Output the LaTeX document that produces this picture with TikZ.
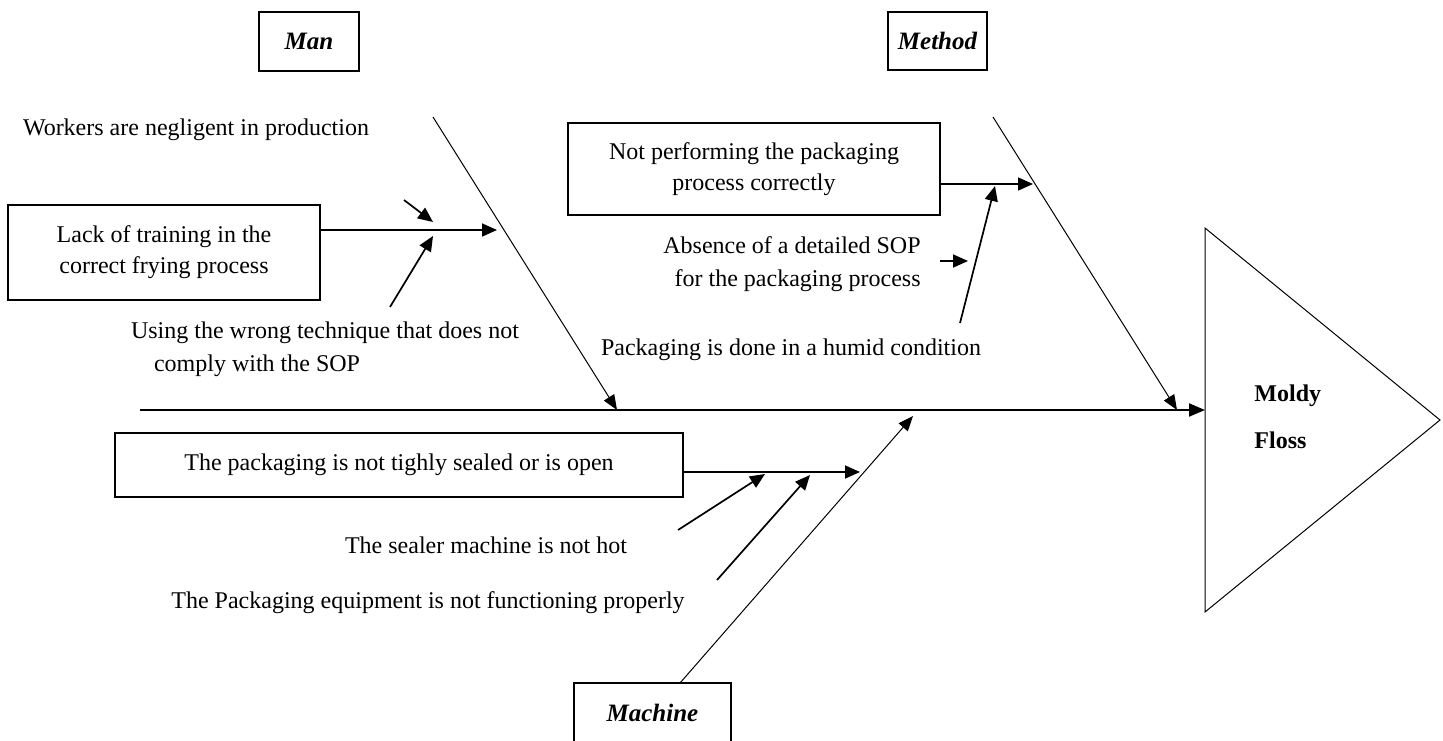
\documentclass[tikz,border=0pt]{standalone}
\usepackage{fontspec}
\setmainfont{Liberation Serif}
\usetikzlibrary{arrows.meta,calc}
\tikzset{
  box/.style={draw, line width=0.6pt, inner sep=0pt, align=center, font=\fontsize{12}{15.5}\selectfont},
  catbox/.style={box, font=\fontsize{12.5}{15}\selectfont\bfseries\itshape},
  lbl/.style={inner sep=0pt, align=center, font=\fontsize{12}{15.5}\selectfont},
  arr/.style={-{Triangle[length=7.5pt,width=6.5pt]}, line width=0.85pt},
  bone/.style={-{Triangle[length=7.5pt,width=6pt]}, line width=0.5pt},
  spine/.style={-{Triangle[length=8pt,width=6.5pt]}, line width=1pt},
}
\begin{document}
\begin{tikzpicture}[x=0.5pt,y=-0.5pt]
\useasboundingbox (0,0) rectangle (1443,740);

% effect triangle
\coordinate (effTop) at (1205,228);
\coordinate (effBot) at (1205,612);
\coordinate (effTip) at (1440,420);
\coordinate (effW) at (1205,410);
\draw[line width=0.5pt] (effTop) -- (effTip) -- (effBot) -- cycle;
\node[lbl, anchor=west, align=left, font=\fontsize{12}{23.5}\selectfont\bfseries] (effect) at (1254,417) {Moldy\\Floss};

% spine
\coordinate (tail) at (140,410);
\draw[spine] (tail) -- (effW);

% category boxes
\node[catbox, minimum width=50pt, minimum height=29.5pt] (man) at (309,41.5) {Man};
\node[catbox, minimum width=49.5pt, minimum height=29pt] (method) at (937.5,41) {Method};
\node[catbox, minimum width=78.5pt, minimum height=29.5pt] (machine) at (652.5,712.5) {Machine};

% bones
\coordinate (manTop) at (433,117);
\coordinate (manEnd) at (617,410);
\draw[bone] (manTop) -- (manEnd);
\coordinate (methTop) at (993,117);
\coordinate (methEnd) at (1177,410);
\draw[bone] (methTop) -- (methEnd);
\coordinate (machStart) at (680,683);
\coordinate (machEnd) at (913,416);
\draw[bone] (machStart) -- (machEnd);

% Man causes
\node[box, minimum width=156pt, minimum height=47.5pt] (lack) at (164,252.5) {Lack of training in the\\correct frying process};
\coordinate (lackOut) at (320,230);
\coordinate (lackEnd) at (497,230);
\draw[arr] (lackOut) -- (lackEnd);
\node[lbl] (workers) at (196,130) {Workers are negligent in production};
\coordinate (workA) at (404,200);
\coordinate (workB) at (433,222);
\draw[arr] (workA) -- (workB);
\node[lbl] (using1) at (325,333) {Using the wrong technique that does not};
\node[lbl] (using2) at (257,366) {comply with the SOP};
\coordinate (useA) at (390,307);
\coordinate (useB) at (433,236);
\draw[arr] (useA) -- (useB);

% Method causes
\node[box, minimum width=186pt, minimum height=46pt] (notperf) at (754,169) {Not performing the packaging\\process correctly};
\coordinate (npOut) at (940,184);
\coordinate (npEnd) at (1033,184);
\draw[arr] (npOut) -- (npEnd);
\node[lbl, anchor=east, align=right, font=\fontsize{12}{16.5}\selectfont] (absence) at (921,264) {Absence of a detailed SOP\\for the packaging process};
\coordinate (absA) at (940,261);
\coordinate (absB) at (968,261);
\draw[arr] (absA) -- (absB);
\node[lbl] (humid) at (791,350) {Packaging is done in a humid condition};
\coordinate (humA) at (960,323);
\coordinate (humB) at (995,186);
\draw[arr] (humA) -- (humB);

% Machine causes
\node[box, minimum width=284pt, minimum height=32pt] (sealed) at (399,465) {The packaging is not tighly sealed or is open};
\coordinate (seOut) at (683,472);
\coordinate (seEnd) at (860,472);
\draw[arr] (seOut) -- (seEnd);
\node[lbl] (hot) at (486,545) {The sealer machine is not hot};
\coordinate (hotA) at (678,530);
\coordinate (hotB) at (765,474);
\draw[arr] (hotA) -- (hotB);
\node[lbl] (equip) at (428,603) {The Packaging equipment is not functioning properly};
\coordinate (eqA) at (717,580);
\coordinate (eqB) at (810,475);
\draw[arr] (eqA) -- (eqB);
\end{tikzpicture}
\end{document}
